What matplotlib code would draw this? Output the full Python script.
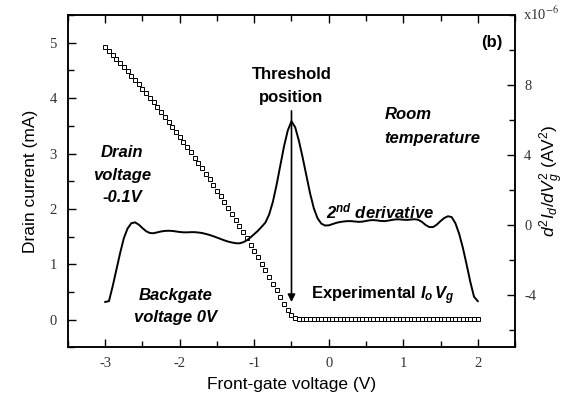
import numpy as np
import matplotlib
matplotlib.use("Agg")
import matplotlib.pyplot as plt
from matplotlib.ticker import MultipleLocator

plt.rcParams['axes.unicode_minus'] = False
plt.rcParams['mathtext.fontset'] = 'custom'
plt.rcParams['mathtext.rm'] = 'Liberation Sans'
plt.rcParams['mathtext.it'] = 'Liberation Sans:italic'
plt.rcParams['mathtext.bf'] = 'Liberation Sans:bold:italic'

# Front-gate sweep (V)
vg = np.linspace(-3.0, 2.0, 101)

# Measured drain current (mA)
drain_current_ma = [
    4.920, 4.850, 4.779, 4.706, 4.633, 4.558, 4.482, 4.406, 4.328, 4.249,
    4.168, 4.087, 4.005, 3.921, 3.836, 3.750, 3.664, 3.575, 3.486, 3.396,
    3.305, 3.212, 3.118, 3.023, 2.928, 2.830, 2.732, 2.633, 2.533, 2.431,
    2.328, 2.225, 2.120, 2.014, 1.907, 1.798, 1.689, 1.578, 1.467, 1.354,
    1.240, 1.125, 1.009, 0.892, 0.773, 0.654, 0.533, 0.411, 0.289, 0.170,
    0.080, 0.040, 0.020, 0.010, 0.010, 0.010, 0.010, 0.010, 0.010, 0.010,
    0.010, 0.010, 0.010, 0.010, 0.010, 0.010, 0.010, 0.010, 0.010, 0.010,
    0.010, 0.010, 0.010, 0.010, 0.010, 0.010, 0.010, 0.010, 0.010, 0.010,
    0.010, 0.010, 0.010, 0.010, 0.010, 0.010, 0.010, 0.010, 0.010, 0.010,
    0.010, 0.010, 0.010, 0.010, 0.010, 0.010, 0.010, 0.010, 0.010, 0.010,
    0.010,
]

# Second derivative d2Id/dVg2 (units of 1e-6 A/V^2)
d2id_e6 = [
    -4.40, -4.35, -3.50, -2.55, -1.60, -0.75, -0.20, 0.10, 0.15, 0.02,
    -0.18, -0.36, -0.46, -0.47, -0.42, -0.37, -0.34, -0.33, -0.34, -0.37,
    -0.40, -0.42, -0.42, -0.41, -0.41, -0.43, -0.46, -0.51, -0.57, -0.64,
    -0.72, -0.80, -0.88, -0.95, -1.00, -1.04, -1.05, -0.99, -0.88, -0.71,
    -0.52, -0.33, -0.10, 0.14, 0.60, 1.32, 2.30, 3.40, 4.50, 5.40,
    5.93, 5.58, 4.80, 3.85, 2.82, 1.80, 0.95, 0.38, 0.08, -0.03,
    -0.02, 0.05, 0.12, 0.17, 0.20, 0.22, 0.22, 0.20, 0.18, 0.19,
    0.23, 0.27, 0.28, 0.26, 0.23, 0.22, 0.25, 0.29, 0.32, 0.32,
    0.30, 0.29, 0.31, 0.33, 0.30, 0.18, 0.00, -0.12, -0.12, 0.02,
    0.22, 0.40, 0.50, 0.45, 0.10, -0.50, -1.30, -2.25, -3.25, -4.10,
    -4.35,
]

threshold_v = -0.5

fig = plt.figure(figsize=(5.67, 4.0), dpi=100)
ax = fig.add_axes([0.1199, 0.1313, 0.7884, 0.8312])
ax2 = ax.twinx()

serif = 'Liberation Serif'
sans = 'Liberation Sans'

ax.plot(vg, drain_current_ma, linestyle='none', marker='s', markersize=3.0,
        markerfacecolor='white', markeredgecolor='black', markeredgewidth=0.7,
        zorder=3)
ax2.plot(vg, d2id_e6, color='black', linewidth=1.4, zorder=2)

ax.set_xlim(-3.5, 2.5)
ax.set_ylim(-0.5, 5.5)
ax2.set_ylim(-7, 12)

ax.xaxis.set_major_locator(MultipleLocator(1))
ax.xaxis.set_minor_locator(MultipleLocator(0.5))
ax.yaxis.set_major_locator(MultipleLocator(1))
ax.yaxis.set_minor_locator(MultipleLocator(0.5))
ax2.set_yticks([-4, 0, 4, 8])
ax2.yaxis.set_minor_locator(MultipleLocator(2))

for a in (ax, ax2):
    for s in a.spines.values():
        s.set_linewidth(1.1)

ax.tick_params(axis='both', which='both', direction='in', width=1.0,
               top=True, right=False, labelsize=10.5)
ax.tick_params(axis='both', which='major', length=6)
ax.tick_params(axis='both', which='minor', length=4)
ax.tick_params(axis='x', which='both', top=True)
ax.tick_params(axis='x', pad=7)
ax.tick_params(axis='y', pad=8)
ax2.tick_params(axis='y', which='both', direction='in', width=1.0,
                labelsize=10.5, pad=6.5)
ax2.tick_params(axis='y', which='major', length=6)
ax2.tick_params(axis='y', which='minor', length=4)

for lab in ax.get_xticklabels() + ax.get_yticklabels() + ax2.get_yticklabels():
    lab.set_fontfamily(serif)
    lab.set_color('#333333')

ax.set_xlabel('Front-gate voltage (V)', fontfamily=sans, fontsize=12.5, labelpad=5)
ax.set_ylabel('Drain current (mA)', fontfamily=sans, fontsize=12.5, labelpad=8)
ax2.set_ylabel(r'$d^2I_d/dV_g^2$ (AV$^2$)', fontfamily=sans, fontsize=12.5,
               labelpad=1)

fig.text(0.922, 0.965, r'x10$^{-6}$', fontfamily=serif, fontsize=10.5,
         color='#333333', ha='left', va='center', math_fontfamily='stix')

# Threshold marker
ax.annotate('', xy=(threshold_v, 0.32), xytext=(threshold_v, 3.77),
            arrowprops=dict(arrowstyle='-|>', color='black', lw=1.2,
                            mutation_scale=11, shrinkA=0, shrinkB=0))

bold = dict(fontfamily=sans, fontweight='bold', fontsize=12, color='black')
bi = dict(fontfamily=sans, fontweight='bold', fontstyle='italic',
          fontsize=12, color='black')

ax.text(2.33, 5.01, '(b)', ha='right', va='center', **bold)
ax.text(threshold_v, 4.42, 'Threshold', ha='center', va='center', **bold)
ax.text(threshold_v, 4.02, 'position', ha='center', va='center', **bold)

ax.text(-2.77, 3.01, 'Drain', ha='center', va='center', **bi)
ax.text(-2.77, 2.61, 'voltage', ha='center', va='center', **bi)
ax.text(-2.77, 2.20, '-0.1V', ha='center', va='center', **bi)

ax.text(0.75, 3.70, 'Room', ha='left', va='center', **bi)
ax.text(0.75, 3.27, 'temperature', ha='left', va='center', **bi)

ax.text(-0.04, 1.95, r'2$^{\mathbf{nd}}$ derivative', ha='left', va='center', **bi)

ax.text(-2.05, 0.43, 'Backgate', ha='center', va='center', **bi)
ax.text(-2.05, 0.04, 'voltage 0V', ha='center', va='center', **bi)

ax.text(-0.24, 0.43,
        r'Experimental $\mathbf{I}_{\mathbf{o}}\,\mathbf{V}_{\mathbf{g}}$',
        ha='left', va='center', **bold)

fig.savefig('out.png', dpi=100)
